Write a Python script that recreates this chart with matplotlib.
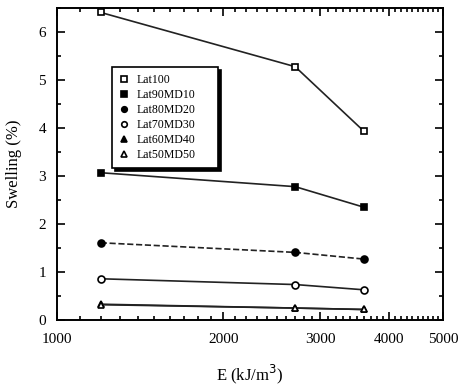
import numpy as np
import matplotlib
matplotlib.use("Agg")
import matplotlib.pyplot as plt
from matplotlib.ticker import FixedLocator, NullFormatter, MultipleLocator

plt.rcParams['font.family'] = ['Liberation Serif', 'DejaVu Serif']

energy = [1200, 2700, 3600]
labels = ["Lat100", "Lat90MD10", "Lat80MD20", "Lat70MD30", "Lat60MD40", "Lat50MD50"]
lat100 = [6.41, 5.28, 3.93]
lat90 = [3.07, 2.78, 2.35]
lat80 = [1.61, 1.41, 1.27]
lat70 = [0.86, 0.74, 0.63]
lat60 = [0.33, 0.25, 0.22]
lat50 = [0.32, 0.25, 0.22]

series = [lat100, lat90, lat80, lat70, lat60, lat50]
markers = ["s", "s", "o", "o", "^", "^"]
fills = ["white", "black", "black", "white", "black", "white"]
styles = ["-", "-", "--", "-", "-", "-"]

fig = plt.figure(figsize=(4.58, 3.87), dpi=100)
ax = fig.add_axes([0.1245, 0.173, 0.8425, 0.806])

for vals, lab, m, fc, ls in zip(series, labels, markers, fills, styles):
    ax.plot(energy, vals, ls, color="#222222", lw=1.2, marker=m, ms=5,
            mfc=fc, mec="black", mew=1.2, label=lab)

ax.set_xscale("log")
ax.set_xlim(1000, 5000)
ax.set_ylim(0, 6.5)
ax.xaxis.set_major_locator(FixedLocator([1000, 2000, 3000, 4000, 5000]))
ax.xaxis.set_minor_locator(FixedLocator(np.arange(1100, 5000, 100)))
ax.xaxis.set_minor_formatter(NullFormatter())
ax.set_xticklabels(["1000", "2000", "3000", "4000", "5000"])
ax.yaxis.set_major_locator(MultipleLocator(1))
ax.yaxis.set_minor_locator(MultipleLocator(0.5))

ax.tick_params(which="both", direction="in", top=True, right=True, labelsize=11, width=1.2)
ax.tick_params(which="major", length=6)
ax.tick_params(which="minor", length=3)
ax.tick_params(axis="x", pad=9)
ax.tick_params(axis="y", pad=8)
for s in ax.spines.values():
    s.set_linewidth(1.4)

ax.set_xlabel("E (kJ/m$^3$)", fontsize=12, labelpad=12)
ax.set_ylabel("Swelling (%)", fontsize=12, labelpad=12)

leg = ax.legend(loc="upper left", bbox_to_anchor=(0.142, 0.4, 0.275, 0.41), mode="expand",
                fontsize=8.5, frameon=True, fancybox=False, borderaxespad=0,
                shadow={"ox": 2, "oy": -2, "facecolor": "black", "edgecolor": "black", "alpha": 1},
                handlelength=0.8, markerscale=0.8,
                labelspacing=0.25, borderpad=0.6, handletextpad=0.7)
leg.get_frame().set_edgecolor("black")
leg.get_frame().set_linewidth(1.2)
for h in leg.get_lines():
    h.set_linestyle("none")

fig.savefig("out.png", dpi=100)
